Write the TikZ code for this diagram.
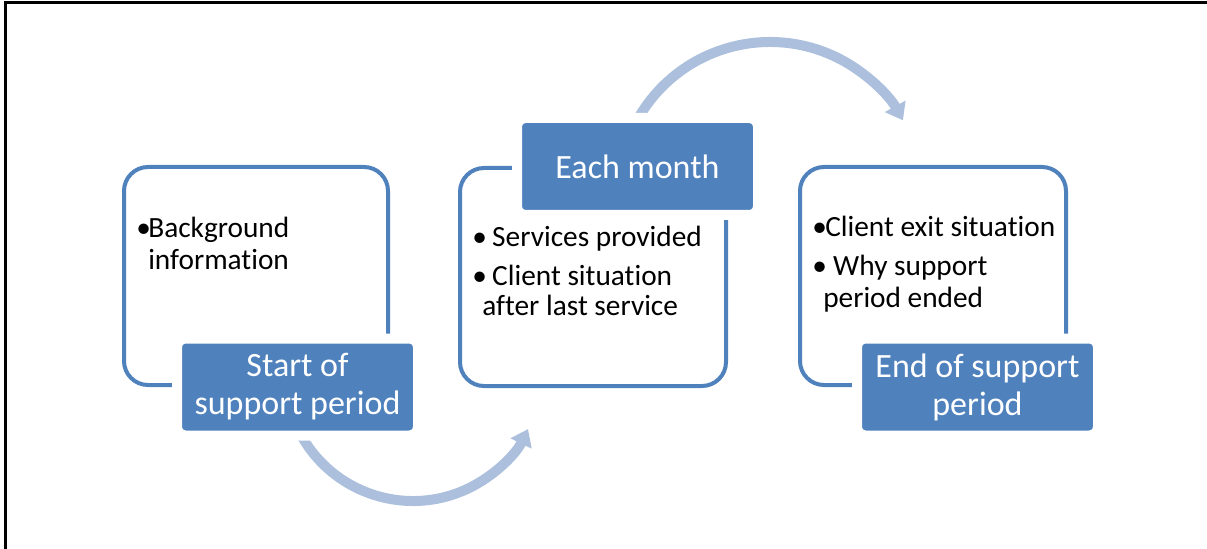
\documentclass[tikz,border=0pt]{standalone}
\usepackage{fontspec}
\setmainfont{Carlito}[Ligatures=NoCommon]
\usetikzlibrary{positioning, arrows.meta}
\definecolor{hdrblue}{RGB}{79,129,189}
\definecolor{arcblue}{RGB}{172,191,221}

\begin{document}
\begin{tikzpicture}[x=0.75pt,y=-0.75pt,
    outline/.style={draw=hdrblue,line width=3pt,rounded corners=18pt},
    header/.style={rectangle,rounded corners=6.5pt,fill=hdrblue,draw=white,
        line width=7.5pt,minimum width=180.75pt,minimum height=72.75pt,
        inner sep=0pt,text=white,align=center,font=\fontsize{25.5}{28.5}\selectfont},
    item/.style={anchor=base west,inner sep=0pt,align=left,
        font=\fontsize{22}{24}\selectfont},
    turn/.style={draw=arcblue,line width=7.5pt,-{Triangle[width=17pt,length=12pt]}}]
    \useasboundingbox (0,0) rectangle (1207,549);
    \draw[line width=2.25pt] (1207,3) -- (5,3) -- (5,549);

    %curved arrows between the stages:
    \coordinate (lowc) at (413,373);
    \coordinate (topc) at (770,194);
    \draw[turn] ([shift={(152:128)}]lowc) arc[start angle=152,end angle=26,radius=128];
    \draw[turn] ([shift={(211:152)}]topc) arc[start angle=211,end angle=331,radius=152];

    %the three frames
    \draw[outline] (124,167) rectangle (388,385);
    \draw[outline] (460,168) rectangle (726,386);
    \draw[outline] (800,167) rectangle (1066,385);

    % (base of a two line node = its last line)
    \node[item] (bg) at (136,269) {\makebox[9pt][l]{•}Background\\\hspace*{9pt}information};

    \node[item] (svc) at (472,247) {\makebox[15pt][l]{•}Services provided};
    \node[item,font=\fontsize{22}{22.5}\selectfont] (sit) at (472,315) {\makebox[15pt][l]{•}Client situation\\\hspace*{7.5pt}after last service};

    \node[item] (exit) at (812,237) {\makebox[9.75pt][l]{•}Client exit situation};
    \node[item] (why) at (812,307) {\makebox[15.75pt][l]{•}Why support\\\hspace*{8.25pt}period ended};

    %labels on top
    \node[header] (start) at (297.5,387) {Start of\\support period};
    \node[header] (month) at (637.5,166.5) {Each month};
    \node[header] (finish) at (977.5,387) {End of support\\period};
\end{tikzpicture}
\end{document}
